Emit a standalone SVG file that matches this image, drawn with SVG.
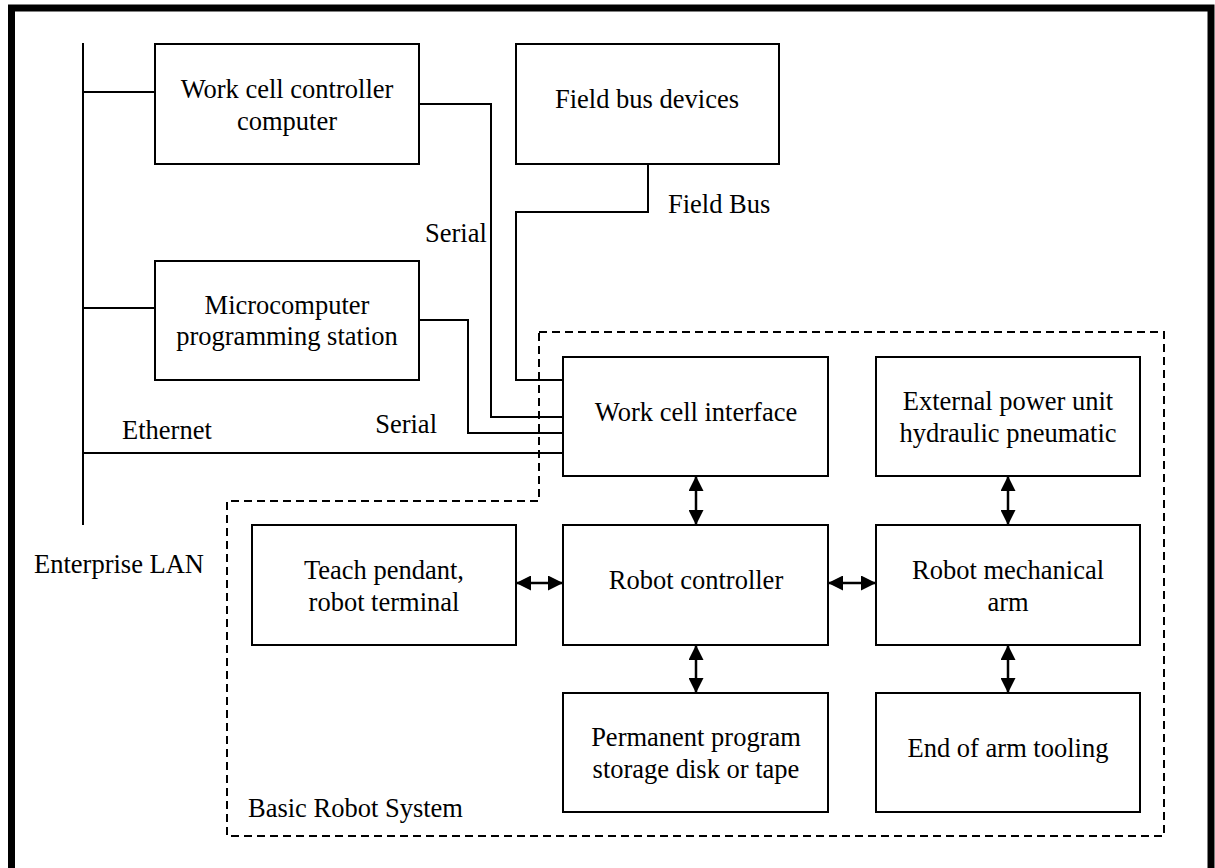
<svg xmlns="http://www.w3.org/2000/svg" width="1215" height="868" viewBox="0 0 1215 868">
<style>
.box{fill:#fff;stroke:#000;stroke-width:2}
.ln{fill:none;stroke:#000;stroke-width:2}
.dash{fill:none;stroke:#000;stroke-width:2;stroke-dasharray:8 5}
.arr{fill:none;stroke:#000;stroke-width:2.5;marker-start:url(#ah);marker-end:url(#ah)}
text{font-family:"Liberation Serif","Times New Roman",serif;font-size:26.5px;fill:#000}
.c{text-anchor:middle}
</style>
<defs>
<marker id="ah" viewBox="0 0 15 15" refX="15" refY="7.5" markerWidth="15" markerHeight="15" markerUnits="userSpaceOnUse" orient="auto-start-reverse">
<path d="M0,0 L15,7.5 L0,15 Z" fill="#000"/>
</marker>
</defs>
<rect x="0" y="0" width="1215" height="868" fill="#fff"/>
<rect x="11.5" y="8" width="1199.5" height="880" fill="none" stroke="#000" stroke-width="7"/>

<g id="boundary">
<path class="dash" d="M539,332 H1164 V836 H227 V501 H539 Z"/>
<text x="248" y="817">Basic Robot System</text>
</g>

<g id="connectors">
<path class="ln" d="M83,43 V525"/>
<path class="ln" d="M83,92 H155"/>
<path class="ln" d="M83,308 H155"/>
<path class="ln" d="M83,453 H563"/>
<path class="ln" d="M419,104 H491 V417 H563"/>
<path class="ln" d="M419,320 H468 V433 H563"/>
<path class="ln" d="M648,164 V212 H516 V380 H563"/>
<path class="arr" d="M696,476 V525"/>
<path class="arr" d="M696,645 V693"/>
<path class="arr" d="M1008,476 V525"/>
<path class="arr" d="M1008,645 V693"/>
<path class="arr" d="M516,583 H563"/>
<path class="arr" d="M828,583 H876"/>
<text x="425" y="242">Serial</text>
<text x="437" y="433" text-anchor="end">Serial</text>
<text x="122" y="439">Ethernet</text>
<text x="668" y="213">Field Bus</text>
<text x="204" y="573" text-anchor="end">Enterprise LAN</text>
</g>

<g id="work-cell-controller">
<rect class="box" x="155" y="44" width="264" height="120"/>
<text class="c" x="287" y="98">Work cell controller</text>
<text class="c" x="287" y="130">computer</text>
</g>
<g id="microcomputer">
<rect class="box" x="155" y="261" width="264" height="119"/>
<text class="c" x="287" y="314">Microcomputer</text>
<text class="c" x="287" y="345">programming station</text>
</g>
<g id="field-bus-devices">
<rect class="box" x="516" y="44" width="263" height="120"/>
<text class="c" x="647" y="108">Field bus devices</text>
</g>
<g id="work-cell-interface">
<rect class="box" x="563" y="357" width="265" height="119"/>
<text class="c" x="696" y="421">Work cell interface</text>
</g>
<g id="external-power">
<rect class="box" x="876" y="357" width="264" height="119"/>
<text class="c" x="1008" y="410">External power unit</text>
<text class="c" x="1008" y="442">hydraulic pneumatic</text>
</g>
<g id="teach-pendant">
<rect class="box" x="252" y="525" width="264" height="120"/>
<text class="c" x="384" y="579">Teach pendant,</text>
<text class="c" x="384" y="611">robot terminal</text>
</g>
<g id="robot-controller">
<rect class="box" x="563" y="525" width="265" height="120"/>
<text class="c" x="696" y="589">Robot controller</text>
</g>
<g id="robot-arm">
<rect class="box" x="876" y="525" width="264" height="120"/>
<text class="c" x="1008" y="579">Robot mechanical</text>
<text class="c" x="1008" y="611">arm</text>
</g>
<g id="permanent-storage">
<rect class="box" x="563" y="693" width="265" height="119"/>
<text class="c" x="696" y="746">Permanent program</text>
<text class="c" x="696" y="778">storage disk or tape</text>
</g>
<g id="end-of-arm">
<rect class="box" x="876" y="693" width="264" height="119"/>
<text class="c" x="1008" y="757">End of arm tooling</text>
</g>
</svg>
